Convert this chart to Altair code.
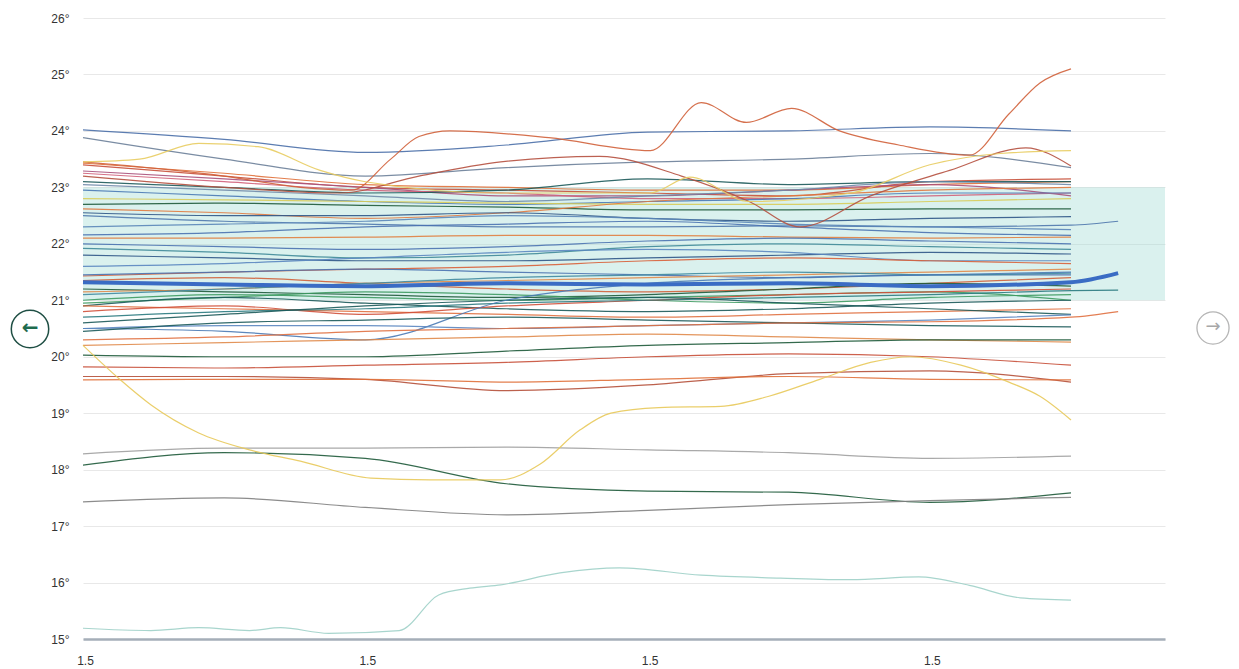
import altair as alt
import pandas as pd

# ---------------- data ----------------
X_DAYS = [0, 0.5, 1.0, 1.5, 2.0, 2.5, 3.0, 3.5, 3.667]
X_MAX = 3.833
X_TICKS = [0.007, 1.007, 2.007, 3.007]
Y_TICKS = list(range(15, 27))
BAND = [21, 23]

# regular series: values at X_DAYS (None = no value)
REG_VALUES = [
    [24.02, 23.85, 23.62, 23.75, 23.98, 24.0, 24.07, 24.0, None],
    [23.88, 23.5, 23.2, 23.35, 23.45, 23.5, 23.6, 23.35, None],
    [23.43, 23.25, 23.05, 23.0, 22.95, 22.95, 23.05, 23.1, None],
    [23.4, 23.2, 23.0, 22.95, 22.9, 22.85, 23.1, 23.15, None],
    [23.29, 23.15, 23.0, 22.85, 22.85, 22.95, 23.05, 22.85, None],
    [23.25, 23.1, 22.95, 22.9, 22.8, 22.8, 22.85, 22.9, None],
    [23.1, 23.0, 22.9, 22.95, 23.15, 23.05, 23.1, 23.1, None],
    [23.05, 22.95, 22.85, 22.75, 22.85, 22.95, 23.1, 23.05, None],
    [22.95, 22.85, 22.75, 22.7, 22.75, 22.8, 22.9, 22.9, None],
    [22.8, 22.78, 22.75, 22.72, 22.7, 22.7, 22.75, 22.8, None],
    [22.7, 22.72, 22.68, 22.65, 22.6, 22.6, 22.62, 22.62, None],
    [22.62, 22.55, 22.45, 22.55, 22.75, 22.85, 22.95, 23.0, None],
    [22.55, 22.5, 22.5, 22.55, 22.45, 22.4, 22.45, 22.48, None],
    [22.5, 22.4, 22.35, 22.3, 22.3, 22.32, 22.3, 22.33, 22.4],
    [22.3, 22.35, 22.4, 22.5, 22.45, 22.35, 22.3, 22.25, None],
    [22.16, 22.2, 22.3, 22.35, 22.4, 22.3, 22.2, 22.15, None],
    [22.1, 22.1, 22.12, 22.15, 22.15, 22.12, 22.1, 22.12, None],
    [22.0, 21.95, 21.9, 21.95, 22.05, 22.1, 22.05, 22.0, None],
    [21.92, 21.85, 21.75, 21.8, 21.95, 22.0, 21.95, 21.9, None],
    [21.8, 21.75, 21.7, 21.7, 21.75, 21.8, 21.85, 21.82, None],
    [21.6, 21.65, 21.75, 21.85, 21.9, 21.85, 21.7, 21.7, None],
    [21.43, 21.5, 21.55, 21.6, 21.7, 21.75, 21.7, 21.65, None],
    [21.45, 21.5, 21.55, 21.5, 21.45, 21.4, 21.45, 21.45, None],
    [21.35, 21.4, 21.3, 21.2, 21.15, 21.2, 21.3, 21.4, None],
    [21.2, 21.15, 21.1, 21.05, 21.1, 21.2, 21.3, 21.25, None],
    [21.15, 21.2, 21.3, 21.35, 21.4, 21.45, 21.5, 21.55, None],
    [21.1, 21.2, 21.3, 21.4, 21.45, 21.5, 21.45, 21.48, None],
    [21.0, 21.1, 21.05, 21.0, 21.05, 21.1, 21.15, 21.0, None],
    [20.95, 21.05, 21.15, 21.1, 21.0, 20.95, 21.05, 21.1, None],
    [20.9, 21.05, 20.95, 20.85, 20.8, 20.85, 20.95, 21.0, None],
    [20.9, 20.85, 20.8, 20.75, 20.7, 20.75, 20.8, 20.85, None],
    [20.8, 20.9, 20.75, 20.9, 21.0, 21.1, 21.15, 21.2, None],
    [20.7, 20.8, 20.85, 20.95, 21.0, 21.05, 21.1, 21.17, 21.18],
    [20.6, 20.75, 20.9, 21.0, 21.05, 20.95, 20.85, 20.75, None],
    [20.5, 20.45, 20.3, 21.0, 21.3, 21.4, 21.45, 21.5, None],
    [20.5, 20.55, 20.55, 20.5, 20.55, 20.6, 20.65, 20.74, None],
    [20.45, 20.6, 20.65, 20.7, 20.65, 20.6, 20.55, 20.53, None],
    [20.3, 20.35, 20.45, 20.5, 20.55, 20.6, 20.62, 20.7, 20.8],
    [20.2, 20.25, 20.3, 20.35, 20.4, 20.35, 20.3, 20.26, None],
    [20.03, 20.0, 20.0, 20.1, 20.2, 20.25, 20.3, 20.3, None],
    [19.82, 19.8, 19.85, 19.9, 20.0, 20.05, 20.0, 19.85, None],
    [19.65, 19.65, 19.6, 19.4, 19.5, 19.7, 19.75, 19.55, None],
    [19.59, 19.6, 19.6, 19.55, 19.6, 19.65, 19.6, 19.59, None],
    [18.28, 18.38, 18.38, 18.4, 18.35, 18.3, 18.2, 18.24, None],
    [18.08, 18.3, 18.2, 17.75, 17.62, 17.6, 17.42, 17.59, None],
    [17.43, 17.5, 17.33, 17.2, 17.28, 17.38, 17.45, 17.51, None],
]
REG_COLORS = [
    "#4a6fa8", "#6b7f99", "#e0703a", "#c8503a", "#a8507a", "#d0607a",
    "#1c5a5a", "#6f8aa8", "#4a7ab5", "#d8cc58", "#1e5a3a", "#e07a40",
    "#2f5687", "#4f78ad", "#5a86b8", "#4a72b0", "#e08040", "#4a72b0",
    "#3f8a98", "#2f5687", "#5a86c0", "#d8603a", "#4a72b0", "#d0603a",
    "#1e5a3a", "#e08a4a", "#3f8aa0", "#3d9a60", "#3d9a60", "#1c5a5a",
    "#e07040", "#d0503a", "#2a7a80", "#1c5a5a", "#4a7ab5", "#5a86c0",
    "#1c5a5a", "#e07040", "#e08a4a", "#1e5a3a", "#c8503a", "#b5503a",
    "#e0703a", "#a0a0a0", "#1e5a3a", "#808080",
]

# special series with their own x positions (days)
YEL_X = [0, 0.13, 0.24, 0.41, 0.59, 0.77, 1.02, 1.23, 1.48, 1.62, 1.76, 1.87,
         2.04, 2.26, 2.43, 2.61, 2.79, 2.93, 3.11, 3.28, 3.39, 3.5]
YEL_Y = [20.2, 19.6, 19.15, 18.65, 18.35, 18.15, 17.85, 17.82, 17.82, 18.1, 18.7, 19.0,
         19.1, 19.12, 19.3, 19.6, 19.9, 20.0, 19.85, 19.55, 19.3, 18.88]

TEAL_X = [0, 0.24, 0.41, 0.59, 0.70, 0.87, 1.12, 1.26, 1.37, 1.48, 1.69, 1.90,
          2.19, 2.47, 2.72, 2.96, 3.14, 3.32, 3.5]
TEAL_Y = [15.19, 15.15, 15.2, 15.15, 15.2, 15.1, 15.15, 15.78, 15.9, 15.96, 16.17, 16.26,
          16.13, 16.08, 16.05, 16.1, 15.95, 15.73, 15.69]

SPIKE_X = [0, 0.5, 0.77, 0.95, 1.09, 1.19, 1.30, 1.65, 2.01, 2.19, 2.35, 2.51,
           2.68, 2.89, 3.14, 3.28, 3.39, 3.5]
SPIKE_Y = [23.45, 23.2, 23.0, 22.95, 23.5, 23.9, 24.0, 23.88, 23.65, 24.5, 24.15, 24.4,
           24.0, 23.75, 23.57, 24.3, 24.85, 25.1]

HUMP_X = [0, 0.5, 0.91, 1.19, 1.48, 1.83, 2.12, 2.36, 2.54, 2.79, 3.07, 3.34, 3.5]
HUMP_Y = [23.2, 23.0, 22.9, 23.2, 23.45, 23.55, 23.2, 22.75, 22.3, 22.85, 23.3, 23.7, 23.38]

YTOP_X = [0, 0.2, 0.41, 0.62, 0.84, 1.0, 1.48, 2.01, 2.15, 2.36, 2.72, 3.0, 3.25, 3.5]
YTOP_Y = [23.45, 23.5, 23.78, 23.72, 23.3, 23.1, 22.9, 22.9, 23.18, 22.75, 22.9, 23.4, 23.6, 23.65]

SPECIAL = [
    (YEL_X, YEL_Y, "#e8c95a"),
    (TEAL_X, TEAL_Y, "#9fd0c8"),
    (SPIKE_X, SPIKE_Y, "#d0603a"),
    (HUMP_X, HUMP_Y, "#b5503f"),
    (YTOP_X, YTOP_Y, "#e8cc60"),
]

THICK_Y = [21.32, 21.28, 21.25, 21.3, 21.28, 21.3, 21.25, 21.32, 21.48]
THICK_COLOR = "#3a6cc4"

# ---------------- build tables ----------------
rows = []
k = 0
for vals, col in zip(REG_VALUES, REG_COLORS):
    for x, y in zip(X_DAYS, vals):
        if y is not None:
            rows.append({"s": f"s{k:03d}", "x": x, "y": y, "c": col})
    k += 1
for xs, ys, col in SPECIAL:
    for x, y in zip(xs, ys):
        rows.append({"s": f"s{k:03d}", "x": x, "y": y, "c": col})
    k += 1
lines_df = pd.DataFrame(rows)
thick_df = pd.DataFrame({"x": X_DAYS, "y": THICK_Y})
band_df = pd.DataFrame({"x": [0], "x2": [X_MAX], "y": [BAND[0]], "y2": [BAND[1]]})
one = pd.DataFrame({"a": [0]})

xscale = alt.Scale(domain=[0, X_MAX], nice=False, zero=False)
yscale = alt.Scale(domain=[15, 26], nice=False, zero=False)

font = "Liberation Sans"

band = alt.Chart(band_df).mark_rect(color="#9fd9d2", opacity=0.38).encode(
    x=alt.X("x:Q", scale=xscale,
            axis=alt.Axis(values=X_TICKS, labelExpr="'1.5'", title=None, grid=False,
                          ticks=False, domainColor="#a5aeb8", domainWidth=2.5,
                          labelFlush=False, labelOverlap=False,
                          labelFontSize=12, labelColor="#333333", labelPadding=16,
                          labelFont=font)),
    x2="x2:Q",
    y=alt.Y("y:Q", scale=yscale,
            axis=alt.Axis(values=Y_TICKS, labelExpr="datum.value + '°'", title=None,
                          ticks=False, domain=False, gridColor="#e8e8e8",
                          labelFontSize=12, labelColor="#333333", labelPadding=14,
                          labelFont=font)),
    y2="y2:Q",
)

thin = alt.Chart(lines_df).mark_line(interpolate="monotone", strokeWidth=1.2,
                                     opacity=0.9).encode(
    x=alt.X("x:Q", scale=xscale),
    y=alt.Y("y:Q", scale=yscale),
    detail="s:N",
    color=alt.Color("c:N", scale=None),
)

thick = alt.Chart(thick_df).mark_line(interpolate="monotone", strokeWidth=4,
                                      color=THICK_COLOR).encode(
    x=alt.X("x:Q", scale=xscale),
    y=alt.Y("y:Q", scale=yscale),
)

left_circle = alt.Chart(one).mark_point(shape="circle", size=1400, filled=False,
                                        stroke="#1f4f44", strokeWidth=1.5, opacity=1).encode(
    x=alt.value(-53), y=alt.value(311))
left_arrow = alt.Chart(one).mark_text(text="←", fontSize=20, fontWeight="bold",
                                      color="#1e6b4e", font="DejaVu Sans",
                                      baseline="middle", align="center").encode(
    x=alt.value(-53), y=alt.value(310))
right_circle = alt.Chart(one).mark_point(shape="circle", size=1030, filled=False,
                                         stroke="#b5b5b5", strokeWidth=1.3, opacity=1).encode(
    x=alt.value(1130), y=alt.value(310))
right_arrow = alt.Chart(one).mark_text(text="→", fontSize=18, color="#a8a8a8",
                                       font="DejaVu Sans",
                                       baseline="middle", align="center").encode(
    x=alt.value(1130), y=alt.value(309))

chart = alt.layer(band, thin, thick, left_circle, left_arrow, right_circle, right_arrow).properties(
    width=1082, height=621,
    autosize=alt.AutoSizeParams(type="none"),
    padding={"left": 75, "top": 10, "right": 66, "bottom": 30},
    background="white",
).configure_view(stroke=None)

chart.save("out.html", embed_options={"renderer": "svg", "actions": False})
